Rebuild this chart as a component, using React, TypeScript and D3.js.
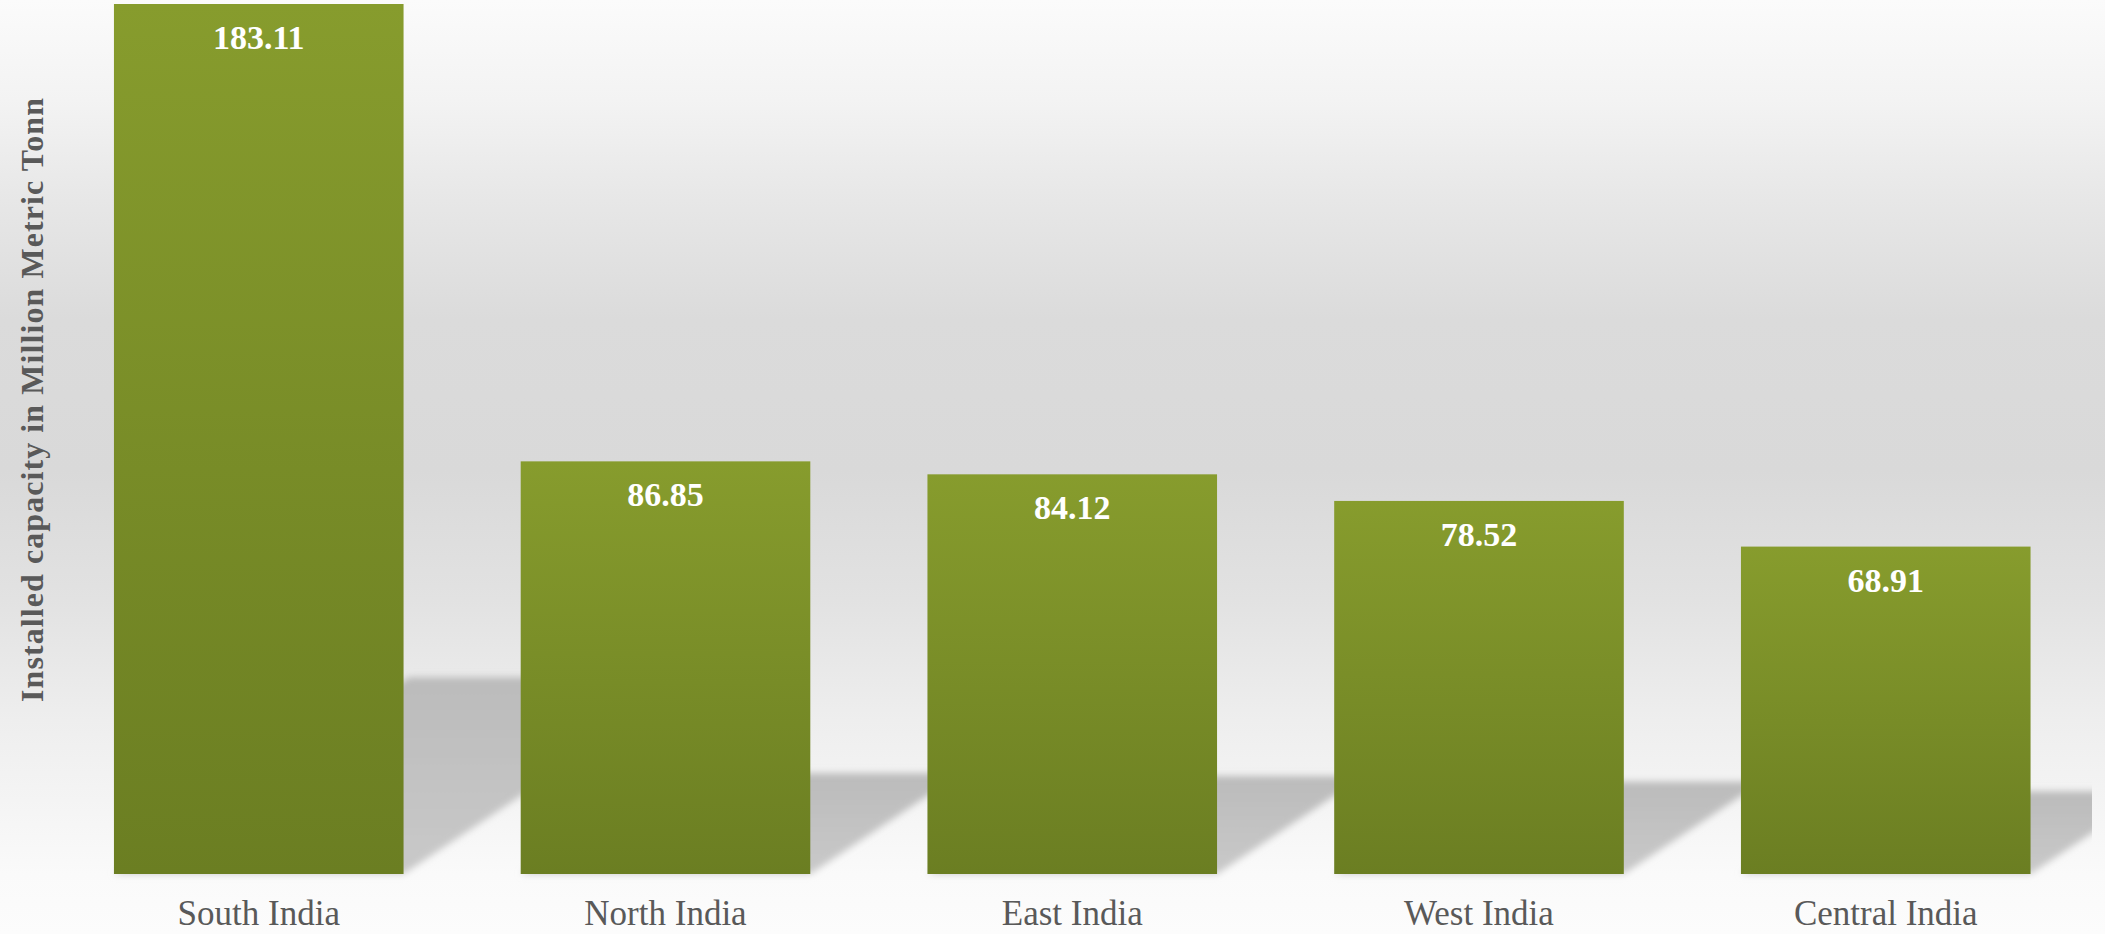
import React, { useEffect } from "react";
import * as d3 from "d3";

const regions: string[] = ["South India", "North India", "East India", "West India", "Central India"];
const capacity: number[] = [183.11, 86.85, 84.12, 78.52, 68.91];
const yTitle = "Installed capacity in Million Metric Tonn";

const W = 2105;
const H = 934;
const plotLeft = 55.5;
const plotRight = 2089;
const clipRight = 2092;
const plotTop = 4;
const plotBottom = 874;

export default function App() {
  useEffect(() => {
    document.body.style.margin = "0";
  }, []);

  const x = d3
    .scaleBand<string>()
    .domain(regions)
    .range([plotLeft, plotRight])
    .paddingInner(0.288)
    .paddingOuter(0.1437);

  const y = d3.scaleLinear().domain([0, 183.11]).range([plotBottom, plotTop]);

  const bgStops: [number, string][] = [
    [0, "#fbfbfb"],
    [100, "#f3f3f3"],
    [200, "#e7e7e7"],
    [320, "#dbdbdb"],
    [470, "#d9d9d9"],
    [600, "#e2e2e2"],
    [720, "#eeeeee"],
    [800, "#f4f4f4"],
    [874, "#fafafa"],
    [934, "#fcfcfc"],
  ];

  const k = 1.5;
  const shadowPath = (d: string, v: number) => {
    const L = x(d)!;
    const R = L + x.bandwidth();
    const B = y(0);
    const h = B - y(v);
    const sh = 0.21 * h + 14;
    const p = d3.path();
    p.moveTo(L, B);
    p.lineTo(R, B);
    p.lineTo(R + k * sh, B - sh);
    p.lineTo(L + k * sh, B - sh);
    p.closePath();
    return p.toString();
  };

  const serif = "'Liberation Serif', 'DejaVu Serif', serif";

  return (
    <svg width={W} height={H} style={{ display: "block" }}>
      <defs>
        <linearGradient id="bg" x1="0" y1="0" x2="0" y2={H} gradientUnits="userSpaceOnUse">
          {bgStops.map(([o, c], i) => (
            <stop key={i} offset={o / H} stopColor={c} />
          ))}
        </linearGradient>
        <linearGradient id="barGrad" x1="0" y1="0" x2="0" y2="1">
          <stop offset="0" stopColor="#879c2d" />
          <stop offset="1" stopColor="#6b7e22" />
        </linearGradient>
        <linearGradient id="shadowGrad" x1="0" y1="0" x2="0" y2="1">
          <stop offset="0" stopColor="#bbbbbb" />
          <stop offset="1" stopColor="#c9c9c9" />
        </linearGradient>
        <filter id="blur" x="-10%" y="-20%" width="120%" height="140%">
          <feGaussianBlur stdDeviation="3.5" />
        </filter>
        <clipPath id="plotClip">
          <rect x={0} y={0} width={clipRight} height={H} />
        </clipPath>
      </defs>
      <rect x={0} y={0} width={W} height={H} fill="url(#bg)" />

      <g clipPath="url(#plotClip)">
        {regions.map((d, i) => (
          <path key={d} d={shadowPath(d, capacity[i])} fill="url(#shadowGrad)" filter="url(#blur)" />
        ))}
      </g>

      {regions.map((d, i) => (
        <rect
          key={d}
          x={x(d)}
          y={y(capacity[i])}
          width={x.bandwidth()}
          height={y(0) - y(capacity[i])}
          fill="url(#barGrad)"
        />
      ))}

      {regions.map((d, i) => (
        <text
          key={d}
          x={x(d)! + x.bandwidth() / 2}
          y={y(capacity[i]) + 45}
          textAnchor="middle"
          fill="#ffffff"
          fontFamily={serif}
          fontWeight="bold"
          fontSize={34}
        >
          {capacity[i].toFixed(2)}
        </text>
      ))}

      {regions.map((d) => (
        <text
          key={d}
          x={x(d)! + x.bandwidth() / 2}
          y={925}
          textAnchor="middle"
          fill="#595959"
          fontFamily={serif}
          fontSize={35}
        >
          {d}
        </text>
      ))}

      <text
        transform={`translate(43, 400) rotate(-90)`}
        textAnchor="middle"
        fill="#595959"
        fontFamily={serif}
        fontWeight="bold"
        fontSize={32}
        textLength={604}
        lengthAdjust="spacing"
      >
        {yTitle}
      </text>
    </svg>
  );
}
